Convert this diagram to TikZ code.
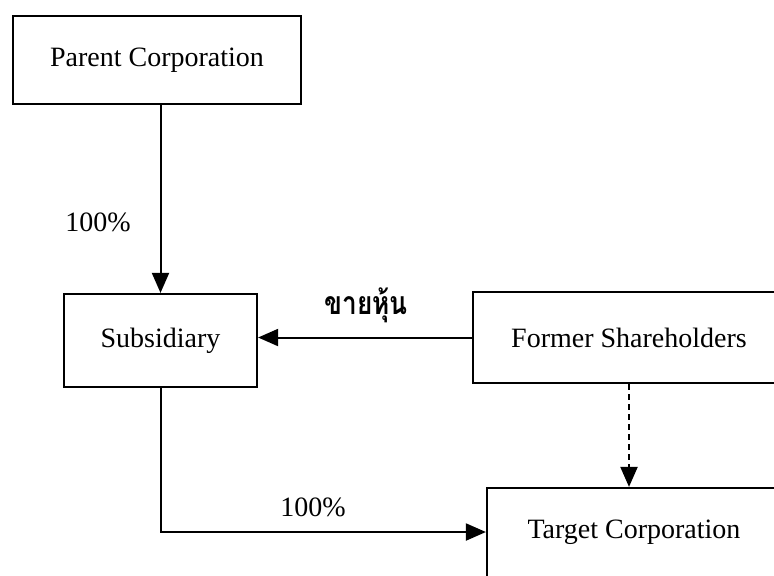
\documentclass[tikz,border=0pt]{standalone}
\usepackage{fontspec}
\setmainfont{Liberation Serif}
\newfontfamily\thaifont[Script=Thai]{Loma}
\usetikzlibrary{arrows.meta,positioning}

\begin{document}
\begin{tikzpicture}[
    x=1pt, y=1pt,
    box/.style={rectangle, draw, line width=1.1pt, align=center, font=\fontsize{14}{16}\selectfont},
    lbl/.style={font=\fontsize{14}{16}\selectfont},
    arr/.style={-{Triangle[length=10pt,width=8.5pt]}, line width=1pt}
]
    \clip (0,0) rectangle (387,-287.5);
    \fill[white] (0,0) rectangle (387,-287.5);

    % Companies
    \node[box, minimum width=144pt, minimum height=44pt] (parent) at (78.5,-30) {Parent Corporation};
    \node[box, minimum width=96.5pt, minimum height=46.5pt] (sub) at (80.25,-170.25) {Subsidiary};
    \node[box, minimum width=164pt, minimum height=45.5pt] (former) at (318.5,-168.75) {};
    \node[lbl] (formerTxt) at (314.5,-168.75) {Former Shareholders};
    \node[box, minimum width=164pt, minimum height=50pt] (target) at (325.5,-269) {};
    \node[lbl] (targetTxt) at (317,-266) {Target Corporation};

    % Labels
    \node[lbl] (ownA) at (49,-111) {100\%};
    \node[lbl] (ownB) at (156.5,-253.5) {100\%};
    \node[font=\thaifont\bfseries\fontsize{16}{18}\selectfont, xscale=0.82, transform shape] (sell) at (183,-152.5) {ขายหุ้น};

    % Connections
    \draw[arr] (sub.north |- parent.south) -- (sub.north);
    \draw[arr] (former.west) -- (former.west -| sub.east);
    \draw[arr, dash pattern=on 3pt off 2pt] (formerTxt.south |- former.south) -- (formerTxt.south |- target.north);
    \draw[arr] (sub.south) |- (targetTxt.west -| target.west);
\end{tikzpicture}
\end{document}
